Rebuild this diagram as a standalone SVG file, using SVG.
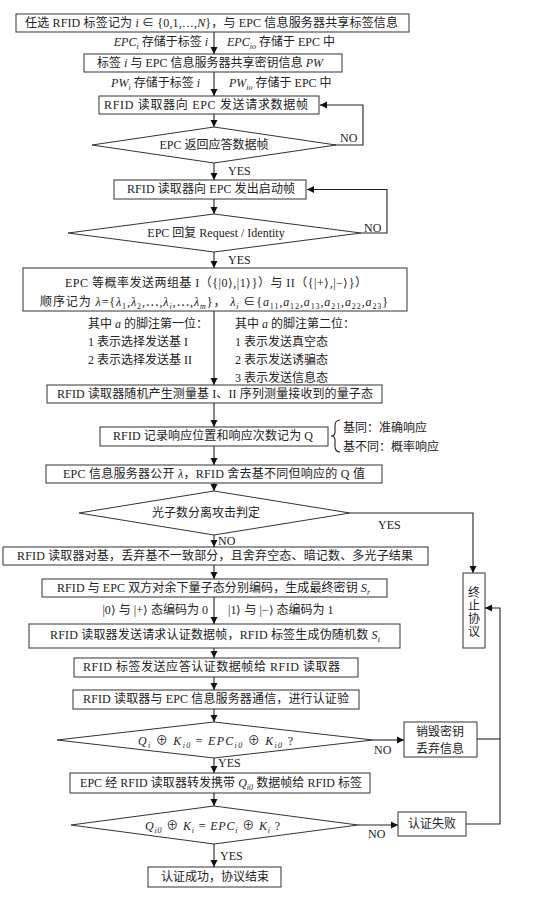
<svg xmlns="http://www.w3.org/2000/svg" width="533" height="903" viewBox="0 0 533 903">
<defs>
<marker id="ah" markerWidth="8" markerHeight="8" refX="7" refY="4" orient="auto" markerUnits="userSpaceOnUse">
<path d="M0,0.5 L7,4 L0,7.5 Z" fill="#111"/>
</marker>
<style>
.b{fill:#fff;stroke:#333;stroke-width:1}
.c{fill:none;stroke:#222;stroke-width:1.1}
.a{marker-end:url(#ah)}
.t{font-family:"Liberation Serif","Noto Sans CJK SC",serif;font-size:12px;fill:#222}
.m{font-style:italic}
.s{font-size:8px}
.mid{text-anchor:middle}
</style>
</defs>
<rect width="533" height="903" fill="#fff"/>

<g id="connectors">
<path class="c a" d="M214,32 V54"/>
<path class="c a" d="M214,72 V96"/>
<path class="c a" d="M214,114 V127"/>
<path class="c a" d="M214,163 V180"/>
<path class="c a" d="M335,145 H363 V105 H320"/>
<path class="c a" d="M214,199 V214"/>
<path class="c a" d="M361,233 H387 V189.5 H307"/>
<path class="c a" d="M214,252 V268"/>
<path class="c a" d="M214,311 V385"/>
<path class="c a" d="M214,403 V427"/>
<path class="c a" d="M214,446 V465"/>
<path class="c a" d="M214,483 V491"/>
<path class="c a" d="M214,535 V547"/>
<path class="c a" d="M350,513 H473 V573"/>
<path class="c a" d="M214,565 V579"/>
<path class="c a" d="M214,597 V624"/>
<path class="c a" d="M214,648 V658"/>
<path class="c a" d="M214,677 V690"/>
<path class="c a" d="M214,709 V722"/>
<path class="c a" d="M373,740 H404"/>
<path class="c a" d="M214,758 V773"/>
<path class="c a" d="M214,793 V806"/>
<path class="c a" d="M358,825 H398"/>
<path class="c a" d="M214,844 V867"/>
<path class="c" d="M477,739 H500"/>
<path class="c a" d="M466,824 H500 V608 H485"/>
<path class="c" d="M340,420 Q335,420 335,426 L335,432 Q335,436 331,436 Q335,436 335,440 L335,446 Q335,452 340,452"/>
</g>

<g id="connector-labels" class="t">
<text x="208" y="46" text-anchor="end"><tspan class="m">EPC</tspan><tspan class="m s" dy="3">i</tspan><tspan dy="-3"> 存储于标签 </tspan><tspan class="m">i</tspan></text>
<text x="227" y="46"><tspan class="m">EPC</tspan><tspan class="m s" dy="3">io</tspan><tspan dy="-3"> 存储于 EPC 中</tspan></text>
<text x="200" y="87" text-anchor="end"><tspan class="m">PW</tspan><tspan class="m s" dy="3">i</tspan><tspan dy="-3"> 存储于标签 </tspan><tspan class="m">i</tspan></text>
<text x="229" y="87"><tspan class="m">PW</tspan><tspan class="m s" dy="3">io</tspan><tspan dy="-3"> 存储于 EPC 中</tspan></text>
<text x="340" y="142">NO</text>
<text x="228" y="175">YES</text>
<text x="364" y="232">NO</text>
<text x="228" y="264">YES</text>
<text x="88" y="328">其中 <tspan class="m">a</tspan> 的脚注第一位：</text>
<text x="88" y="346">1 表示选择发送基 I</text>
<text x="88" y="364">2 表示选择发送基 II</text>
<text x="235" y="328">其中 <tspan class="m">a</tspan> 的脚注第二位：</text>
<text x="235" y="346">1 表示发送真空态</text>
<text x="235" y="364">2 表示发送诱骗态</text>
<text x="235" y="382">3 表示发送信息态</text>
<text x="343" y="432">基同：准确响应</text>
<text x="343" y="451">基不同：概率响应</text>
<text x="378" y="529">YES</text>
<text x="218" y="545">NO</text>
<text x="208" y="614" text-anchor="end">|0⟩ 与 |+⟩ 态编码为 0</text>
<text x="228" y="614">|1⟩ 与 |−⟩ 态编码为 1</text>
<text x="374" y="754">NO</text>
<text x="218" y="767">YES</text>
<text x="368" y="838">NO</text>
<text x="220" y="860">YES</text>
</g>

<g id="n1"><rect class="b" x="16" y="14" width="393" height="18"/>
<text class="t" x="25" y="27" textLength="373">任选 RFID 标签记为 <tspan class="m">i</tspan> ∈ {0,1,…,<tspan class="m">N</tspan>}，与 EPC 信息服务器共享标签信息</text></g>

<g id="n2"><rect class="b" x="84" y="54" width="258" height="18"/>
<text class="t" x="97" y="67" textLength="226">标签 <tspan class="m">i</tspan> 与 EPC 信息服务器共享密钥信息 <tspan class="m">PW</tspan></text></g>

<g id="n3"><rect class="b" x="99" y="96" width="220" height="18"/>
<text class="t" x="104" y="109" textLength="204">RFID 读取器向 EPC 发送请求数据帧</text></g>

<g id="d1"><polygon class="b" points="214,127 336,145 214,163 92,145"/>
<text class="t mid" x="214" y="149">EPC 返回应答数据帧</text></g>

<g id="n4"><rect class="b" x="114" y="180" width="192" height="19"/>
<text class="t" x="127" y="193" textLength="168">RFID 读取器向 EPC 发出启动帧</text></g>

<g id="d2"><polygon class="b" points="214,214 361,233 214,252 68,233"/>
<text class="t mid" x="216" y="237">EPC 回复 Request / Identity</text></g>

<g id="n5"><rect class="b" x="23" y="268" width="384" height="43"/>
<text class="t" x="65" y="287" textLength="302">EPC 等概率发送两组基 I（{|0⟩,|1⟩}）与 II（{|+⟩,|−⟩}）</text>
<text class="t" x="40" y="306" textLength="348">顺序记为 <tspan class="m">λ</tspan>={<tspan class="m">λ</tspan><tspan class="s" dy="3">1</tspan><tspan dy="-3">,</tspan><tspan class="m">λ</tspan><tspan class="s" dy="3">2</tspan><tspan dy="-3">,⋯,</tspan><tspan class="m">λ</tspan><tspan class="m s" dy="3">i</tspan><tspan dy="-3">,⋯,</tspan><tspan class="m">λ</tspan><tspan class="m s" dy="3">m</tspan><tspan dy="-3">}， </tspan><tspan class="m">λ</tspan><tspan class="m s" dy="3">i</tspan><tspan dy="-3"> ∈{</tspan><tspan class="m">a</tspan><tspan class="s" dy="3">11</tspan><tspan dy="-3">,</tspan><tspan class="m">a</tspan><tspan class="s" dy="3">12</tspan><tspan dy="-3">,</tspan><tspan class="m">a</tspan><tspan class="s" dy="3">13</tspan><tspan dy="-3">,</tspan><tspan class="m">a</tspan><tspan class="s" dy="3">21</tspan><tspan dy="-3">,</tspan><tspan class="m">a</tspan><tspan class="s" dy="3">22</tspan><tspan dy="-3">,</tspan><tspan class="m">a</tspan><tspan class="s" dy="3">23</tspan><tspan dy="-3">}</tspan></text></g>

<g id="n6"><rect class="b" x="47" y="385" width="335" height="18"/>
<text class="t" x="57" y="398" textLength="316">RFID 读取器随机产生测量基 I、II 序列测量接收到的量子态</text></g>

<g id="n7"><rect class="b" x="100" y="427" width="228" height="19"/>
<text class="t" x="113" y="440" textLength="200">RFID 记录响应位置和响应次数记为 Q</text></g>

<g id="n8"><rect class="b" x="46" y="465" width="336" height="18"/>
<text class="t" x="63" y="478" textLength="302">EPC 信息服务器公开 <tspan class="m">λ</tspan>，RFID 舍去基不同但响应的 Q 值</text></g>

<g id="d3"><polygon class="b" points="214,491 350,513 214,535 79,513"/>
<text class="t mid" x="206" y="517">光子数分离攻击判定</text></g>

<g id="n9"><rect class="b" x="3" y="547" width="425" height="18"/>
<text class="t" x="17" y="560" textLength="396">RFID 读取器对基，丢弃基不一致部分，且舍弃空态、暗记数、多光子结果</text></g>

<g id="n10"><rect class="b" x="42" y="579" width="345" height="18"/>
<text class="t" x="57" y="592" textLength="313">RFID 与 EPC 双方对余下量子态分别编码，生成最终密钥 <tspan class="m">S</tspan><tspan class="m s" dy="3">r</tspan></text></g>

<g id="n11"><rect class="b" x="29" y="624" width="371" height="24"/>
<text class="t" x="50" y="639" textLength="330">RFID 读取器发送请求认证数据帧，RFID 标签生成伪随机数 <tspan class="m">S</tspan><tspan class="m s" dy="3">t</tspan></text></g>

<g id="n12"><rect class="b" x="74" y="658" width="284" height="19"/>
<text class="t" x="83" y="671" textLength="257">RFID 标签发送应答认证数据帧给 RFID 读取器</text></g>

<g id="n13"><rect class="b" x="73" y="690" width="286" height="19"/>
<text class="t" x="83" y="703" textLength="266">RFID 读取器与 EPC 信息服务器通信，进行认证验</text></g>

<g id="d4"><polygon class="b" points="214,722 373,740 214,758 57,740"/>
<text class="t" x="138" y="745" textLength="155"><tspan class="m">Q</tspan><tspan class="m s" dy="3">i</tspan><tspan dy="-3"> ⊕ </tspan><tspan class="m">K</tspan><tspan class="m s" dy="3">i0</tspan><tspan dy="-3"> = </tspan><tspan class="m">EPC</tspan><tspan class="m s" dy="3">i0</tspan><tspan dy="-3"> ⊕ </tspan><tspan class="m">K</tspan><tspan class="m s" dy="3">i0</tspan><tspan dy="-3"> ?</tspan></text></g>

<g id="n14"><rect class="b" x="404" y="722" width="73" height="35"/>
<text class="t mid" x="440" y="736">销毁密钥</text>
<text class="t mid" x="440" y="753">丢弃信息</text></g>

<g id="n15"><rect class="b" x="70" y="773" width="300" height="20"/>
<text class="t" x="80" y="787" textLength="282">EPC 经 RFID 读取器转发携带 <tspan class="m">Q</tspan><tspan class="m s" dy="3">i0</tspan><tspan dy="-3"> 数据帧给 RFID 标签</tspan></text></g>

<g id="d5"><polygon class="b" points="214,806 358,825 214,844 71,825"/>
<text class="t" x="145" y="830" textLength="135"><tspan class="m">Q</tspan><tspan class="m s" dy="3">i0</tspan><tspan dy="-3"> ⊕ </tspan><tspan class="m">K</tspan><tspan class="m s" dy="3">i</tspan><tspan dy="-3"> = </tspan><tspan class="m">EPC</tspan><tspan class="m s" dy="3">i</tspan><tspan dy="-3"> ⊕ </tspan><tspan class="m">K</tspan><tspan class="m s" dy="3">i</tspan><tspan dy="-3"> ?</tspan></text></g>

<g id="n16"><rect class="b" x="398" y="812" width="68" height="24"/>
<text class="t mid" x="432" y="828">认证失败</text></g>

<g id="n17"><rect class="b" x="148" y="867" width="133" height="20"/>
<text class="t mid" x="215" y="881">认证成功，协议结束</text></g>

<g id="n18"><rect class="b" x="463" y="573" width="22" height="75"/>
<text class="t mid" x="474" y="597">终</text>
<text class="t mid" x="474" y="610">止</text>
<text class="t mid" x="474" y="623">协</text>
<text class="t mid" x="474" y="636">议</text></g>
</svg>
